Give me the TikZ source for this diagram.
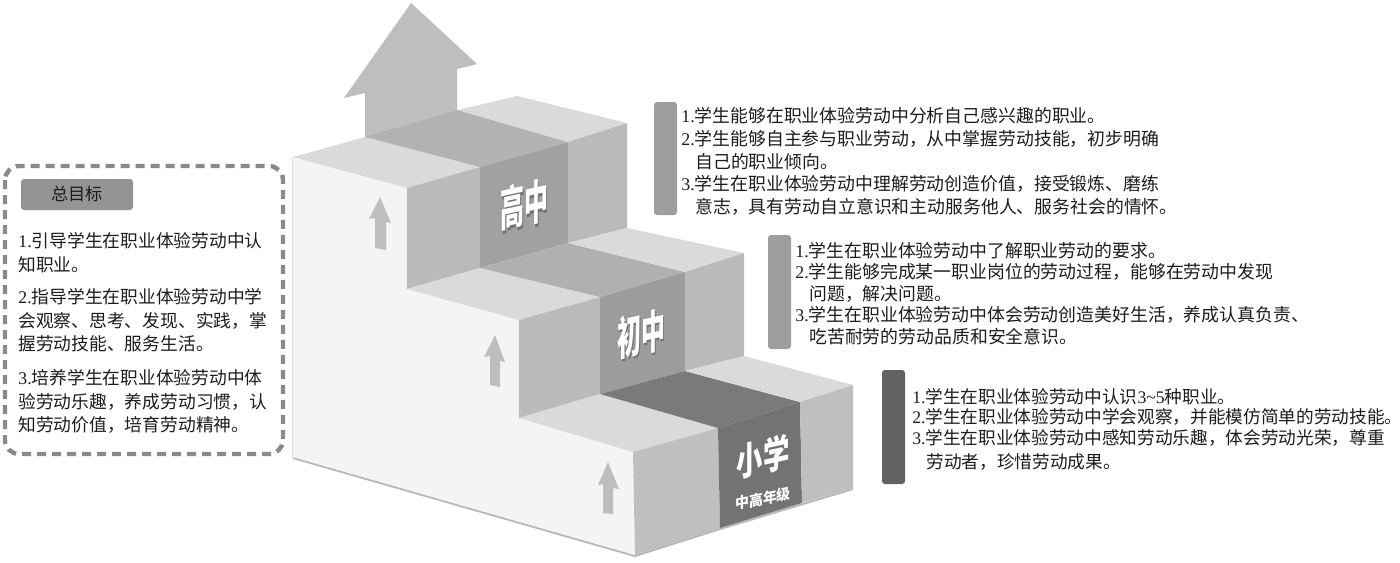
\documentclass[tikz,border=0pt]{standalone}
\usepackage{xcolor}
\usepackage{fontspec}
\setmainfont{Noto Sans CJK SC}
\newfontfamily\latinfont{Liberation Serif}
\newcommand{\nr}[1]{{\latinfont #1}}
\newcommand{\stagetext}[1]{\rlap{\kern .7pt\raisebox{-.7pt}{\textcolor{black!55}{#1}}}\textcolor{white}{#1}}
\definecolor{toplight}{HTML}{D9DADC}
\definecolor{sidegray}{HTML}{B9BABC}
\definecolor{arrowgray}{HTML}{BDBEC0}
\definecolor{whiteface}{HTML}{F4F4F4}
\definecolor{dashgray}{HTML}{8A8A8C}
\definecolor{textgray}{HTML}{1C1C1C}
\tikzset{
  goaltext/.style={anchor=north west, inner sep=0pt, align=left, text=textgray, font=\fontsize{8.93}{11.4}\selectfont},
  stagelabel/.style={inner sep=0pt, transform shape, font=\bfseries\fontsize{12}{12}\selectfont},
}

\begin{document}
\begin{tikzpicture}[x=0.5pt, y=-0.5pt]
 \useasboundingbox (0,0) rectangle (1400,562);

 % big arrow
 \fill [arrowgray] (411,3) -- (477,64) -- (457,69) -- (457,112) -- (365,140) -- (365,93) -- (344,98) -- cycle;

 % soft edge under the block
 \draw [color=black!28, line width=1pt] (293,458) -- (635,556) -- (720,529) -- (853,489);
 \draw [color=black!12, line width=.6pt] (293,157) -- (293,458);

 % white face
 \fill [whiteface] (293,157) -- (407,188) -- (407,289) -- (519,320) -- (519,418) -- (633,452) -- (635,555) -- (293,457) -- cycle;

 % high school step
 \fill [toplight] (293,157) -- (365,137) -- (480,167) -- (407,188) -- cycle;
 \fill [color=black!30] (365,137) -- (458,110) -- (568,142) -- (480,167) -- cycle;
 \fill [toplight] (458,110) -- (517,96) -- (627,123) -- (568,142) -- cycle;
 \fill [sidegray] (407,188) -- (480,167) -- (480,268) -- (407,289) -- cycle;
 \fill [color=black!37] (480,167) -- (568,142) -- (568,243) -- (480,268) -- cycle;
 \fill [sidegray] (568,142) -- (627,123) -- (627,228) -- (568,243) -- cycle;

 % middle school step
 \fill [toplight] (407,289) -- (480,268) -- (600,297) -- (519,320) -- cycle;
 \fill [color=black!31] (480,268) -- (568,243) -- (685,272) -- (600,297) -- cycle;
 \fill [toplight] (568,243) -- (627,228) -- (744,253) -- (685,272) -- cycle;
 \fill [sidegray] (519,320) -- (600,297) -- (600,394) -- (519,418) -- cycle;
 \fill [color=black!39] (600,297) -- (685,272) -- (685,371) -- (600,394) -- cycle;
 \fill [sidegray] (685,272) -- (744,253) -- (744,356) -- (685,371) -- cycle;

 % primary school step
 \fill [toplight] (519,418) -- (600,394) -- (718,428) -- (633,452) -- cycle;
 \fill [color=black!52] (600,394) -- (685,371) -- (800,402) -- (718,428) -- cycle;
 \fill [toplight] (685,371) -- (744,356) -- (853,385) -- (800,402) -- cycle;
 \fill [color=black!25] (633,452) -- (718,428) -- (720,528) -- (635,555) -- cycle;
 \fill [color=black!55] (718,428) -- (800,402) -- (802,503) -- (720,528) -- cycle;
 \fill [color=black!25] (800,402) -- (853,385) -- (853,488) -- (802,503) -- cycle;

 % small arrows on the white face
 \fill [arrowgray] (380,197) -- (391,223) -- (386,222) -- (386,250) -- (375,248) -- (375,218) -- (369,219) -- cycle;
 \fill [arrowgray] (495,335) -- (505,362) -- (500,361) -- (500,387) -- (490,385) -- (490,356) -- (484,357) -- cycle;
 \fill [arrowgray] (608,462) -- (619,489) -- (613,488) -- (613,514) -- (603,513) -- (603,484) -- (598,485) -- cycle;

 % stage names
 \node (gaozhong) at (524,206) [stagelabel, yslant=.22, yscale=1.95] {\stagetext{高中}};
 \node (chuzhong) at (641,335) [stagelabel, yslant=.22, yscale=1.9] {\stagetext{初中}};
 \node (xiaoxue) at (763,458) [stagelabel, yslant=.22, yscale=1.6, xscale=1.1] {\stagetext{小学}};
 \node (grades) at (763,499) [stagelabel, yslant=.2, yscale=.62, xscale=.58] {\stagetext{中高年级}};

 % bars next to the lists
 \fill [rounded corners=1.5pt, color=black!38] (654,102) rectangle (677,215);
 \fill [rounded corners=1.5pt, color=black!38] (768,235) rectangle (791,349);
 \fill [rounded corners=1.5pt, color=black!62] (882,370) rectangle (905,484);

 \node (highlist) at (681,107) [goaltext] {\nr{1.}学生能够在职业体验劳动中分析自己感兴趣的职业。\\
  \nr{2.}学生能够自主参与职业劳动，从中掌握劳动技能，初步明确\\
  \hspace*{7pt}自己的职业倾向。\\
  \nr{3.}学生在职业体验劳动中理解劳动创造价值，接受锻炼、磨练\\
  \hspace*{7pt}意志，具有劳动自立意识和主动服务他人、服务社会的情怀。};
 \node (middlelist) at (795,242) [goaltext, font=\fontsize{8.93}{10.7}\selectfont] {\nr{1.}学生在职业体验劳动中了解职业劳动的要求。\\
  \nr{2.}学生能够完成某一职业岗位的劳动过程，能够在劳动中发现\\
  \hspace*{7pt}问题，解决问题。\\
  \nr{3.}学生在职业体验劳动中体会劳动创造美好生活，养成认真负责、\\
  \hspace*{7pt}吃苦耐劳的劳动品质和安全意识。};
 \node (primarylist) at (912,388) [goaltext, font=\fontsize{8.83}{10.2}\selectfont] {\nr{1.}学生在职业体验劳动中认识\nr{3\textasciitilde5}种职业。\\
  \nr{2.}学生在职业体验劳动中学会观察，并能模仿简单的劳动技能。\\
  \nr{3.}学生在职业体验劳动中感知劳动乐趣，体会劳动光荣，尊重\\[2pt]
  \hspace*{7pt}劳动者，珍惜劳动成果。};

 % overall goal box
 \draw [color=dashgray, line width=2.2pt, rounded corners=7pt, dash pattern=on 4.5pt off 3pt] (5,166) rectangle (283,454);
 \fill [rounded corners=1.5pt, color=black!42] (21,179) rectangle (133,210);
 \node (goaltitle) at (77,194) [inner sep=0pt, text=textgray, font=\fontsize{8.6}{10}\selectfont] {总目标};
 \node (goallist) at (18,232) [goaltext, font=\fontsize{8.88}{11.8}\selectfont] {\nr{1.}引导学生在职业体验劳动中认\\
  知职业。\\[4.5pt]
  \nr{2.}指导学生在职业体验劳动中学\\
  会观察、思考、发现、实践，掌\\
  握劳动技能、服务生活。\\[5pt]
  \nr{3.}培养学生在职业体验劳动中体\\
  验劳动乐趣，养成劳动习惯，认\\
  知劳动价值，培育劳动精神。};
\end{tikzpicture}
\end{document}
